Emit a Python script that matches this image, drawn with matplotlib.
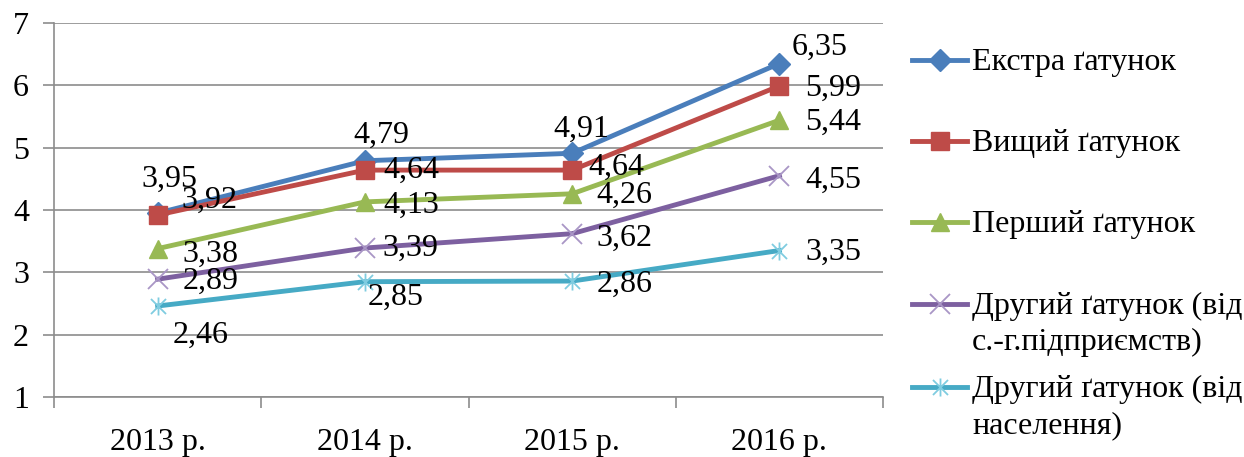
import matplotlib
matplotlib.use("Agg")
import matplotlib.pyplot as plt
from matplotlib.lines import Line2D
from matplotlib.path import Path
import numpy as np

plt.rcParams['font.family'] = ['Liberation Serif', 'DejaVu Serif']

years = ["2013 р.", "2014 р.", "2015 р.", "2016 р."]
series_names = [
    ["Екстра ґатунок"],
    ["Вищий ґатунок"],
    ["Перший ґатунок"],
    ["Другий ґатунок (від", "с.-г.підприємств)"],
    ["Другий ґатунок (від", "населення)"],
]
extra = [3.95, 4.79, 4.91, 6.35]
vyshchyi = [3.92, 4.64, 4.64, 5.99]
pershyi = [3.38, 4.13, 4.26, 5.44]
druhyi_pidpr = [2.89, 3.39, 3.62, 4.55]
druhyi_nasel = [2.46, 2.85, 2.86, 3.35]
all_series = [extra, vyshchyi, pershyi, druhyi_pidpr, druhyi_nasel]

colors = ["#4A7EBB", "#BE4B48", "#98B954", "#7D60A0", "#46AAC5"]
marker_colors = ["#4A7EBB", "#BE4B48", "#98B954", "#A996C6", "#7FCCE0"]

star = Path([(-1, -1), (1, 1), (-1, 1), (1, -1), (0, -1.2), (0, 1.2)],
            [Path.MOVETO, Path.LINETO, Path.MOVETO, Path.LINETO, Path.MOVETO, Path.LINETO])
markers = ["D", "s", "^", "x", star]
msizes = [11, 13, 13, 14, 13]
mew = [1, 1, 1, 1.3, 1.3]

# label offsets in pixels (dx of left edge, dy of visual centre) relative to the point
label_offsets = [
    [(-16, 36), (-12, 28), (-19, 26), (12, 19)],
    [(24, 17), (18, 2), (16, 5), (26, 0)],
    [(25, -3), (18, -1), (24, 1), (26, 0)],
    [(25, 0), (18, 2), (24, -2), (26, -2)],
    [(15, -27), (3, -13), (24, -1), (26, 1)],
]

FS = 23
W, H = 1244, 457
fig = plt.figure(figsize=(W / 100, H / 100), dpi=100)
ax = fig.add_axes([54 / W, 1 - 397 / H, (883 - 54) / W, (397 - 23) / H])

x = np.arange(len(years))
grid_c = "#8C8C8C"
for vals, c, mc, m, ms, mw in zip(all_series, colors, marker_colors, markers, msizes, mew):
    ax.plot(x, vals, color=c, lw=3.5, marker=m, ms=ms,
            markerfacecolor=mc, markeredgecolor=mc,
            markeredgewidth=mw, zorder=3)

half = 10
for vals, offs in zip(all_series, label_offsets):
    for xi, v, (dx, dy) in zip(x, vals, offs):
        ax.annotate(f"{v:.2f}".replace(".", ","), (xi, v), xytext=(dx, dy - half),
                    textcoords="offset pixels", ha="left", va="baseline",
                    fontsize=FS, color="black", zorder=4)

ax.set_xlim(-0.5, len(years) - 0.5)
ax.set_ylim(1, 7)
ax.set_yticks(range(1, 8))
ax.set_yticklabels([str(i) for i in range(1, 8)], fontsize=FS)
ax.yaxis.grid(True, color=grid_c, lw=1.2)
ax.set_axisbelow(True)
ax.set_xticks(x)
ax.set_xticklabels(years, fontsize=FS)
ax.tick_params(axis="x", length=0, pad=22)
ax.set_xticks(np.arange(-0.5, len(years)), minor=True)
ax.tick_params(axis="x", which="minor", length=8, color=grid_c, width=1.2)
ax.tick_params(axis="y", length=8, color=grid_c, width=1.2, pad=10)
for s in ("top", "right"):
    ax.spines[s].set_visible(False)
for s in ("left", "bottom"):
    ax.spines[s].set_color(grid_c)
    ax.spines[s].set_linewidth(1.2)

# manual legend
legend_y = [60, 141, 222, 304, 387]
line_gap = 36
for yy, lines, c, mc, m, ms, mw in zip(legend_y, series_names, colors, marker_colors,
                                        markers, msizes, mew):
    fy = 1 - yy / H
    fig.add_artist(Line2D([912 / W, 967 / W], [fy, fy], color=c, lw=3.5,
                          transform=fig.transFigure))
    fig.add_artist(Line2D([939.5 / W], [fy], color=c, lw=0, marker=m, ms=ms,
                          markerfacecolor=mc, markeredgecolor=mc, markeredgewidth=mw,
                          transform=fig.transFigure))
    for i, t in enumerate(lines):
        fig.text(972 / W, 1 - (yy + half + i * line_gap) / H, t, fontsize=FS,
                 va="baseline", ha="left", transform=fig.transFigure)

fig.savefig("out.png", dpi=100)
